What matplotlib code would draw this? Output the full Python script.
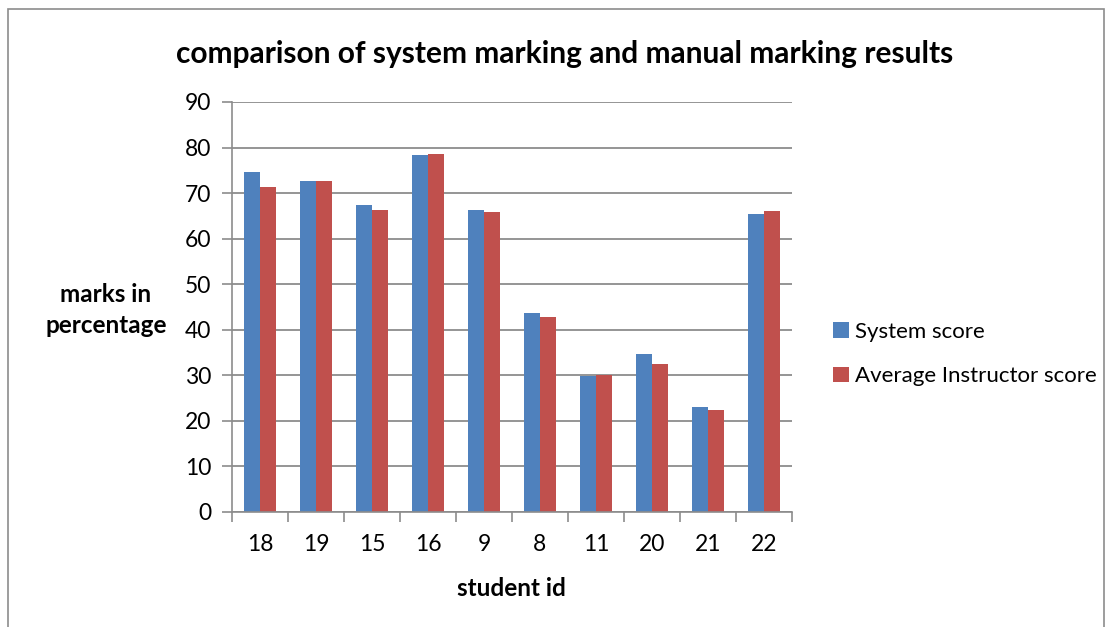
import numpy as np
import matplotlib.pyplot as plt
from matplotlib.patches import Rectangle

student_ids = ["18", "19", "15", "16", "9", "8", "11", "20", "21", "22"]
system_score = [74.7, 72.6, 67.3, 78.4, 66.3, 43.6, 29.8, 34.7, 23.1, 65.4]
instructor_score = [71.3, 72.7, 66.2, 78.5, 65.9, 42.7, 30.0, 32.4, 22.5, 66.1]
y_ticks = [0, 10, 20, 30, 40, 50, 60, 70, 80, 90]

plt.rcParams['font.family'] = ['Lato', 'DejaVu Sans']

fig = plt.figure(figsize=(11.1, 6.27), dpi=100)
W, H = 1110, 627

# outer chart border
fig.patches.append(Rectangle((8 / W, -0.05), 1096 / W, (618 / H) + 0.05,
                             transform=fig.transFigure, fill=False,
                             edgecolor="#8c8c8c", linewidth=1.2))

ax = fig.add_axes([232 / W, (H - 512) / H, 560 / W, 410 / H])

x = np.arange(len(student_ids))
w = 0.28
ax.bar(x - w / 2, system_score, w, color="#4F81BD", label="System score")
ax.bar(x + w / 2, instructor_score, w, color="#C0504D", label="Average Instructor score")

ax.set_xlim(-0.5, len(student_ids) - 0.5)
ax.set_ylim(0, 90)
ax.set_yticks(y_ticks)
ax.yaxis.grid(True, color="#8c8c8c", linewidth=1.3)
ax.set_axisbelow(True)

# ticks at category boundaries, labels at centers
ax.set_xticks(np.arange(-0.5, len(student_ids)), labels=[])
ax.set_xticks(x, labels=student_ids, minor=True)
ax.tick_params(axis="x", which="major", length=7, color="#8c8c8c", width=1.2)
ax.tick_params(axis="x", which="minor", length=0, labelsize=16.5, pad=16)
ax.tick_params(axis="y", length=7, color="#8c8c8c", width=1.2, labelsize=16.5, pad=8)

for s in ["top", "right"]:
    ax.spines[s].set_visible(False)
for s in ["left", "bottom"]:
    ax.spines[s].set_color("#8c8c8c")
    ax.spines[s].set_linewidth(1.2)

fig.text(565 / W, 1 - 54 / H, "comparison of system marking and manual marking results",
         ha="center", va="center", fontsize=21.5, fontweight="bold")
fig.text(106 / W, 1 - 310 / H, "marks in\npercentage", ha="center", va="center",
         fontsize=17.5, fontweight="bold", linespacing=1.45)
fig.text(511 / W, 1 - 588 / H, "student id", ha="center", va="center",
         fontsize=17.5, fontweight="bold")

ax.legend(loc="center left", bbox_to_anchor=(833 / W, 1 - 354 / H),
          bbox_transform=fig.transFigure, frameon=False, fontsize=16,
          handlelength=0.72, handleheight=0.72, handletextpad=0.25,
          labelspacing=1.1, borderaxespad=0, borderpad=0)

fig.savefig("out.png", dpi=100)
